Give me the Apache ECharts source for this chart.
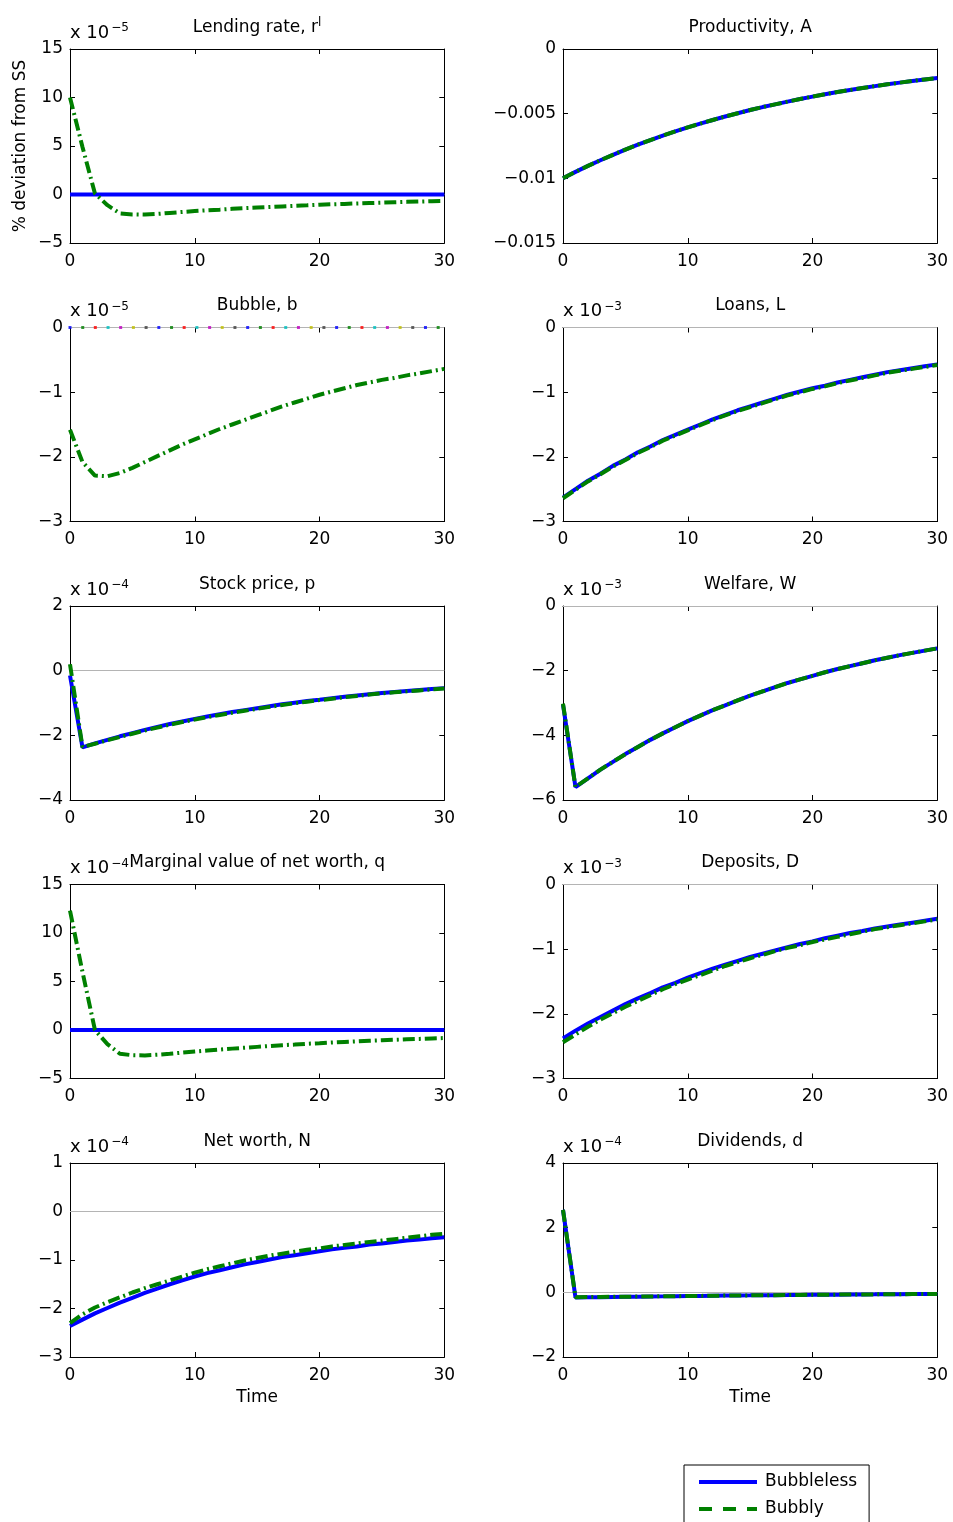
<!DOCTYPE html>
<html>
<head>
<meta charset="utf-8">
<script src="https://cdn.jsdelivr.net/npm/echarts/dist/echarts.min.js"></script>
<style>html,body{margin:0;padding:0;background:#fff}#c{width:953px;height:1522px}</style>
</head>
<body>
<div id="c"></div>
<script>
// ---------------- data ----------------
const t = [0,1,2,3,4,5,6,7,8,9,10,11,12,13,14,15,16,17,18,19,20,21,22,23,24,25,26,27,28,29,30];

// Lending rate (x 1e-5)
const lendBubbleless = [0,0,0,0,0,0,0,0,0,0,0,0,0,0,0,0,0,0,0,0,0,0,0,0,0,0,0,0,0,0,0];
const lendBubbly = [10.0,4.9,0.1,-1.1,-1.95,-2.05,-2.07,-2.0,-1.9,-1.8,-1.71,-1.63,-1.56,-1.48,-1.41,-1.35,-1.29,-1.23,-1.17,-1.12,-1.06,-1.01,-0.97,-0.92,-0.88,-0.84,-0.80,-0.76,-0.73,-0.69,-0.66];

// Bubble (x 1e-5)
const bubbleBubbly = [-1.58,-2.08,-2.29,-2.30,-2.25,-2.17,-2.08,-1.99,-1.90,-1.81,-1.73,-1.65,-1.57,-1.50,-1.43,-1.36,-1.29,-1.22,-1.16,-1.10,-1.04,-0.99,-0.94,-0.89,-0.85,-0.81,-0.78,-0.74,-0.71,-0.675,-0.64];
const bubbleDotT = [0,1.02,2.03,3.05,4.06,5.08,6.1,7.12,8.14,9.15,10.17,11.19,12.2,13.22,14.24,15.26,16.28,17.29,18.31,19.33,20.35,21.37,22.38,23.4,24.42,25.44,26.46,27.47,28.49,29.51];
const bubbleDotV = [0,0,0,0,0,0,0,0,0,0,0,0,0,0,0,0,0,0,0,0,0,0,0,0,0,0,0,0,0,0];

// Stock price (x 1e-4)
const stockBubbleless = [-0.15,-2.37,-2.25,-2.14,-2.03,-1.93,-1.83,-1.74,-1.65,-1.57,-1.49,-1.42,-1.35,-1.28,-1.22,-1.16,-1.10,-1.04,-0.99,-0.94,-0.90,-0.85,-0.81,-0.77,-0.73,-0.69,-0.66,-0.63,-0.60,-0.57,-0.54];
const stockBubbly = [0.2,-2.36,-2.26,-2.15,-2.05,-1.95,-1.85,-1.76,-1.67,-1.59,-1.51,-1.44,-1.37,-1.30,-1.24,-1.18,-1.12,-1.06,-1.01,-0.96,-0.91,-0.87,-0.82,-0.78,-0.74,-0.70,-0.67,-0.64,-0.61,-0.58,-0.55];

// Marginal value of net worth (x 1e-4)
const qBubbleless = [0,0,0,0,0,0,0,0,0,0,0,0,0,0,0,0,0,0,0,0,0,0,0,0,0,0,0,0,0,0,0];
const qBubbly = [12.3,6.0,0.0,-1.45,-2.45,-2.6,-2.62,-2.55,-2.45,-2.33,-2.22,-2.12,-2.02,-1.92,-1.83,-1.74,-1.65,-1.57,-1.50,-1.42,-1.36,-1.29,-1.23,-1.17,-1.11,-1.06,-1.01,-0.96,-0.92,-0.87,-0.83];

// Net worth (x 1e-4)
const netBubbleless = [-2.36,-2.23,-2.10,-1.99,-1.88,-1.78,-1.68,-1.59,-1.50,-1.42,-1.34,-1.27,-1.21,-1.15,-1.09,-1.04,-0.99,-0.94,-0.90,-0.86,-0.82,-0.78,-0.75,-0.72,-0.68,-0.66,-0.63,-0.60,-0.58,-0.55,-0.53];
const netBubbly = [-2.30,-2.12,-1.98,-1.87,-1.77,-1.67,-1.58,-1.50,-1.42,-1.34,-1.26,-1.19,-1.13,-1.07,-1.01,-0.96,-0.91,-0.87,-0.83,-0.79,-0.76,-0.72,-0.69,-0.66,-0.63,-0.60,-0.57,-0.54,-0.51,-0.48,-0.46];

// Productivity
const prodBubbleless = [-0.0100,-0.0095,-0.00904,-0.00860,-0.00818,-0.00778,-0.00740,-0.00704,-0.00670,-0.00637,-0.00606,-0.00577,-0.00549,-0.00522,-0.00497,-0.00472,-0.00449,-0.00428,-0.00407,-0.00387,-0.00368,-0.00350,-0.00333,-0.00317,-0.00302,-0.00287,-0.00273,-0.00260,-0.00247,-0.00235,-0.00224];
const prodBubbly = [-0.0100,-0.0095,-0.00904,-0.00860,-0.00818,-0.00778,-0.00740,-0.00704,-0.00670,-0.00637,-0.00606,-0.00577,-0.00549,-0.00522,-0.00497,-0.00472,-0.00449,-0.00428,-0.00407,-0.00387,-0.00368,-0.00350,-0.00333,-0.00317,-0.00302,-0.00287,-0.00273,-0.00260,-0.00247,-0.00235,-0.00224];

// Loans (x 1e-3)
const loansBubbleless = [-2.63,-2.50,-2.37,-2.26,-2.14,-2.04,-1.93,-1.84,-1.74,-1.66,-1.58,-1.50,-1.42,-1.35,-1.28,-1.22,-1.16,-1.10,-1.04,-0.99,-0.94,-0.90,-0.85,-0.81,-0.77,-0.73,-0.69,-0.66,-0.63,-0.60,-0.57];
const loansBubbly = [-2.64,-2.51,-2.38,-2.27,-2.15,-2.05,-1.94,-1.85,-1.75,-1.67,-1.59,-1.51,-1.43,-1.36,-1.29,-1.23,-1.17,-1.11,-1.05,-1.00,-0.95,-0.91,-0.86,-0.82,-0.78,-0.74,-0.70,-0.67,-0.64,-0.61,-0.58];

// Welfare (x 1e-3)
const welfareBubbleless = [-3.05,-5.60,-5.33,-5.06,-4.82,-4.58,-4.36,-4.14,-3.94,-3.75,-3.56,-3.39,-3.22,-3.07,-2.92,-2.77,-2.64,-2.51,-2.38,-2.27,-2.16,-2.05,-1.95,-1.86,-1.77,-1.68,-1.60,-1.52,-1.45,-1.38,-1.31];
const welfareBubbly = [-3.02,-5.60,-5.33,-5.06,-4.82,-4.58,-4.36,-4.14,-3.94,-3.75,-3.56,-3.39,-3.22,-3.07,-2.92,-2.77,-2.64,-2.51,-2.38,-2.27,-2.16,-2.05,-1.95,-1.86,-1.77,-1.68,-1.60,-1.52,-1.45,-1.38,-1.31];

// Deposits (x 1e-3)
const depBubbleless = [-2.38,-2.26,-2.15,-2.05,-1.95,-1.85,-1.76,-1.68,-1.59,-1.52,-1.44,-1.37,-1.30,-1.24,-1.18,-1.12,-1.07,-1.02,-0.97,-0.92,-0.88,-0.83,-0.79,-0.75,-0.72,-0.68,-0.65,-0.62,-0.59,-0.56,-0.53];
const depBubbly = [-2.44,-2.32,-2.20,-2.09,-1.99,-1.89,-1.80,-1.71,-1.62,-1.54,-1.47,-1.40,-1.33,-1.26,-1.20,-1.14,-1.09,-1.03,-0.98,-0.94,-0.89,-0.85,-0.81,-0.77,-0.73,-0.69,-0.66,-0.63,-0.60,-0.57,-0.54];

// Dividends (x 1e-4)
const divBubbleless = [2.55,-0.16,-0.155,-0.15,-0.145,-0.14,-0.135,-0.13,-0.125,-0.12,-0.115,-0.11,-0.105,-0.10,-0.097,-0.094,-0.09,-0.087,-0.084,-0.08,-0.077,-0.074,-0.071,-0.068,-0.065,-0.063,-0.06,-0.058,-0.055,-0.053,-0.05];
const divBubbly = [2.55,-0.15,-0.147,-0.143,-0.139,-0.135,-0.131,-0.127,-0.123,-0.119,-0.115,-0.11,-0.105,-0.10,-0.097,-0.094,-0.09,-0.087,-0.084,-0.08,-0.077,-0.074,-0.071,-0.068,-0.065,-0.063,-0.06,-0.058,-0.055,-0.053,-0.05];

const seriesNames = ['Bubbleless', 'Bubbly'];
const panelTitles = ['Lending rate, r', 'Bubble, b', 'Stock price, p', 'Marginal value of net worth, q', 'Net worth, N',
                     'Productivity, A', 'Loans, L', 'Welfare, W', 'Deposits, D', 'Dividends, d'];
const panelExponents = ['\u22125', '\u22125', '\u22124', '\u22124', '\u22124', null, '\u22123', '\u22123', '\u22123', '\u22124'];
const yMins = [-5, -3, -4, -5, -3, -0.015, -3, -6, -3, -2];
const yMaxs = [15, 0, 2, 15, 1, 0, 0, 0, 0, 4];
const yIntervals = [5, 1, 2, 5, 1, 0.005, 1, 2, 1, 2];
const xTickMin = 0, xTickMax = 30, xTickInterval = 10;
const yAxisTitle = '% deviation from SS';
const xAxisTitle = 'Time';

// ---------------- layout / style ----------------
const FONT = '"DejaVu Sans"';
const BLUE = '#0000ff', GREEN = '#008000', ZERO = '#b4b4b4';
const dotColors = ['#0000ff', '#008000', '#ff0000', '#00bfbf', '#bf00bf', '#bfbf00', '#404040'];
const rowTops = [49, 327.5, 606, 884.5, 1163];
const colLefts = [70, 563];
const PW = 374.3, PH = 194;

const panels = [
  {row: 0, col: 0, blue: lendBubbleless, green: lendBubbly, sup: 'l', zero: true},
  {row: 1, col: 0, blue: null, green: bubbleBubbly, dots: true, zero: true},
  {row: 2, col: 0, blue: stockBubbleless, green: stockBubbly, zero: true},
  {row: 3, col: 0, blue: qBubbleless, green: qBubbly, zero: true},
  {row: 4, col: 0, blue: netBubbleless, green: netBubbly, zero: true},
  {row: 0, col: 1, blue: prodBubbleless, green: prodBubbly, zero: false},
  {row: 1, col: 1, blue: loansBubbleless, green: loansBubbly, zero: true},
  {row: 2, col: 1, blue: welfareBubbleless, green: welfareBubbly, zero: true},
  {row: 3, col: 1, blue: depBubbleless, green: depBubbly, zero: true},
  {row: 4, col: 1, blue: divBubbleless, green: divBubbly, zero: true}
];

const fmt = v => String(+(+v).toPrecision(10)).replace('-', '\u2212');
const font = s => s + 'px ' + FONT;

const grids = [], xAxes = [], yAxes = [], series = [], graphic = [];

panels.forEach((p, i) => {
  const left = colLefts[p.col], top = rowTops[p.row];
  grids.push({left: left, top: top, width: PW, height: PH, containLabel: false, outerBoundsMode: 'none'});
  const axLine = {show: true, onZero: false, lineStyle: {color: '#000', width: 1}};
  const axTick = {show: true, inside: true, length: 5, lineStyle: {color: '#000', width: 1}};
  const xb = {
    type: 'value', gridIndex: i, min: xTickMin, max: xTickMax, interval: xTickInterval,
    axisLine: axLine, axisTick: axTick, splitLine: {show: false},
    axisLabel: {show: true, margin: 10, color: '#000', fontSize: 17, fontFamily: FONT, formatter: fmt}
  };
  xAxes.push(Object.assign({}, xb, {position: 'bottom'}));
  xAxes.push(Object.assign({}, xb, {position: 'top', axisLabel: {show: false}}));
  const yb = {
    type: 'value', gridIndex: i, min: yMins[i], max: yMaxs[i], interval: yIntervals[i],
    axisLine: axLine, axisTick: axTick, splitLine: {show: false},
    axisLabel: {show: true, margin: 7, color: '#000', fontSize: 17, fontFamily: FONT, formatter: fmt}
  };
  yAxes.push(Object.assign({}, yb, {position: 'left'}));
  yAxes.push(Object.assign({}, yb, {position: 'right', axisLabel: {show: false}}));

  const xi = 2 * i, yi = 2 * i;
  const zeroMark = p.zero ? {
    silent: true, symbol: 'none', z: 1, label: {show: false},
    lineStyle: {color: ZERO, width: 1, type: 'solid'}, data: [{yAxis: 0}]
  } : undefined;
  let first = true;
  if (p.blue) {
    series.push({
      name: seriesNames[0], type: 'line', xAxisIndex: xi, yAxisIndex: yi,
      data: t.map((x, k) => [x, p.blue[k]]), symbol: 'none', showSymbol: false,
      lineStyle: {color: BLUE, width: 4, type: 'solid'}, itemStyle: {color: BLUE},
      markLine: zeroMark, z: 2
    });
    first = false;
  }
  series.push({
    name: seriesNames[1], type: 'line', xAxisIndex: xi, yAxisIndex: yi,
    data: t.map((x, k) => [x, p.green[k]]), symbol: 'none', showSymbol: false,
    lineStyle: {color: GREEN, width: 4, type: [12, 4, 2, 4]}, itemStyle: {color: GREEN},
    markLine: first ? zeroMark : undefined, z: 3
  });
  if (p.dots) {
    series.push({
      type: 'scatter', xAxisIndex: xi, yAxisIndex: yi, clip: false,
      symbol: 'rect', symbolSize: 3, z: 4,
      data: bubbleDotT.map((x, k) => ({value: [x, bubbleDotV[k]], itemStyle: {color: dotColors[k % dotColors.length]}}))
    });
  }

  // title
  const cx = left + PW / 2;
  const titleText = p.sup ? '{m|' + panelTitles[i] + '}{s|' + p.sup + '}' : '{m|' + panelTitles[i] + '}';
  graphic.push({
    type: 'text', x: cx, y: top - 21.5, z: 10,
    style: {
      text: titleText, fill: '#000', font: font(17), align: 'center', verticalAlign: 'middle',
      rich: {
        m: {font: font(17), fontSize: 17, fontFamily: FONT, fill: '#000', lineHeight: 22},
        s: {font: font(12), fontSize: 12, fontFamily: FONT, fill: '#000', lineHeight: 9, verticalAlign: 'top'}
      }
    }
  });
  // exponent
  if (panelExponents[i]) {
    graphic.push({
      type: 'text', x: left, y: top - 16, z: 10,
      style: {
        text: '{b|x 10}{s|' + panelExponents[i] + '}', fill: '#000', font: font(18),
        align: 'left', verticalAlign: 'middle',
        rich: {
          b: {font: font(18), fontSize: 18, fontFamily: FONT, fill: '#000', lineHeight: 22},
          s: {font: font(12), fontSize: 12, fontFamily: FONT, fill: '#000', lineHeight: 9, verticalAlign: 'top', padding: [0, 0, 0, 2]}
        }
      }
    });
  }
  if (p.row === 4) {
    graphic.push({
      type: 'text', x: cx, y: top + PH + 41, z: 10,
      style: {text: xAxisTitle, fill: '#000', font: font(17), align: 'center', verticalAlign: 'middle'}
    });
  }
});

graphic.push({
  type: 'text', x: 21, y: 146, rotation: Math.PI / 2, z: 10,
  style: {text: yAxisTitle, fill: '#000', font: font(17), align: 'center', verticalAlign: 'middle'}
});

const chart = echarts.init(document.getElementById('c'), null, {renderer: 'canvas', width: 953, height: 1522});
chart.setOption({
  animation: false,
  backgroundColor: '#fff',
  grid: grids,
  xAxis: xAxes,
  yAxis: yAxes,
  series: series,
  graphic: graphic,
  legend: {
    show: true, orient: 'vertical', left: 684, top: 1465, height: 120,
    padding: [7, 12, 40, 13], itemGap: 7, itemWidth: 58, itemHeight: 14,
    borderColor: '#000', borderWidth: 1, borderRadius: 0, backgroundColor: '#fff',
    selectedMode: false,
    itemStyle: {color: 'rgba(0,0,0,0)', opacity: 0, borderWidth: 0},
    textStyle: {fontSize: 17, fontFamily: FONT, color: '#000', lineHeight: 20, padding: [0, 0, 0, 3]},
    data: [
      {name: seriesNames[0], lineStyle: {type: 'solid', width: 4}, itemStyle: {color: 'rgba(0,0,0,0)', opacity: 0, borderWidth: 0}},
      {name: seriesNames[1], lineStyle: {type: [13, 11], width: 4}, itemStyle: {color: 'rgba(0,0,0,0)', opacity: 0, borderWidth: 0}}
    ]
  }
});
</script>
</body>
</html>
